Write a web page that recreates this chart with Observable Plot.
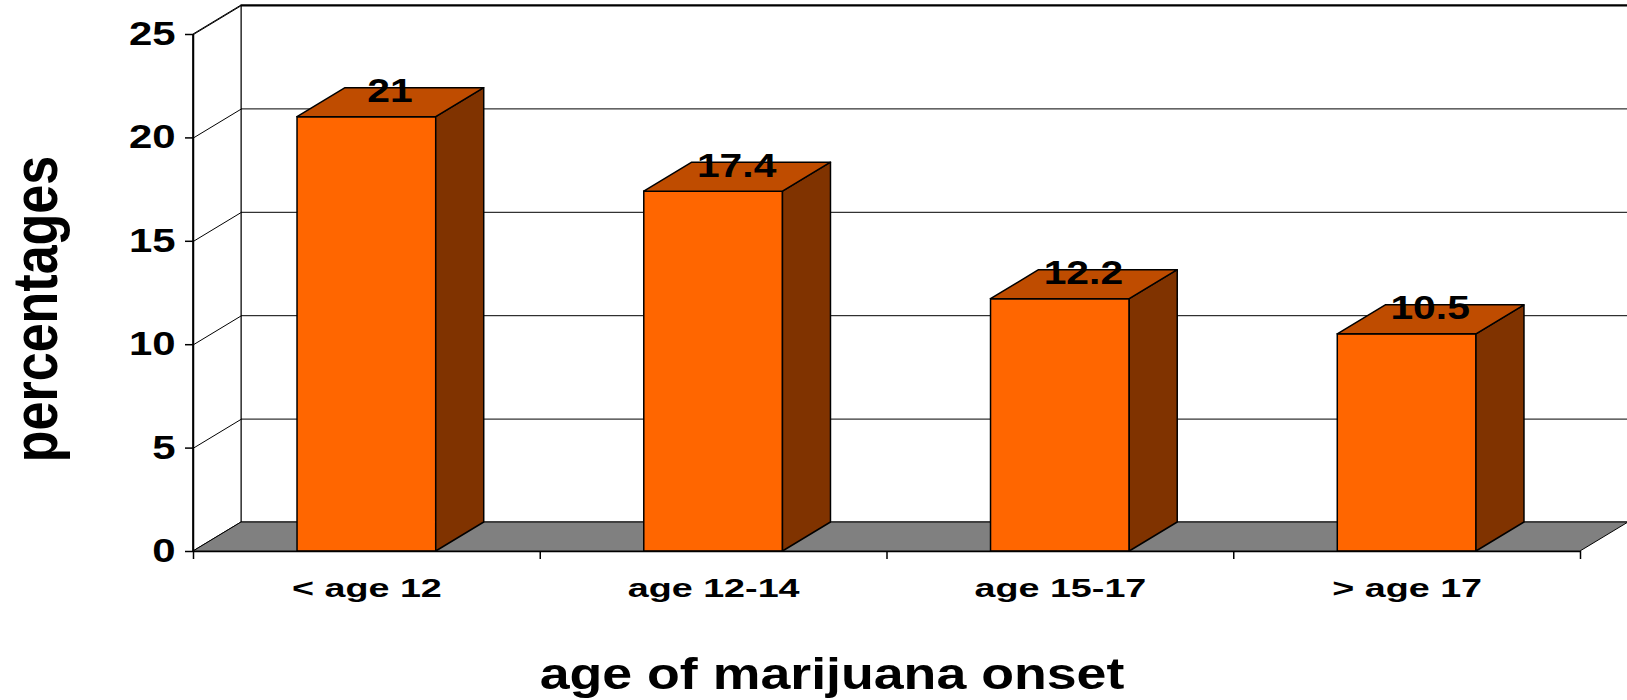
<!DOCTYPE html>
<html>
<head>
<meta charset="utf-8">
<script src="https://cdn.jsdelivr.net/npm/d3@7"></script>
<script src="https://cdn.jsdelivr.net/npm/@observablehq/plot@0.6"></script>
<style>
  html, body { margin: 0; padding: 0; background: #ffffff; }
</style>
</head>
<body>
<div id="chart"></div>
<script>
// Age at first marijuana use and the share (%) in each group
const categories = ["< age 12", "age 12-14", "age 15-17", "> age 17"];
const percentages = [21, 17.4, 12.2, 10.5];
const yTicks = [0, 5, 10, 15, 20, 25];
const xTitle = "age of marijuana onset";
const yTitle = "percentages";

// Chart frame
const W = 1627, H = 700;
const margin = {top: 34, right: 47, bottom: 149, left: 193};
const yMax = 25;
const nCat = categories.length;

// Depth of the pseudo-3D box, in pixels, converted to data units
const depthPx = {x: 48, y: 29};
const pxPerCat = (W - margin.left - margin.right) / nCat;
const pxPerUnit = (H - margin.top - margin.bottom) / yMax;
const DX = depthPx.x / pxPerCat;
const DY = depthPx.y / pxPerUnit;

// Bar footprint within each category band
const barLo = 0.3, barHi = 0.7;

const colors = {
  front: "#ff6600",
  top: "#bf4c00",
  side: "#803300",
  floor: "#808080",
  line: "#000000"
};

const gridVals = yTicks.filter(v => v > 0 && v < yMax);

const leftWall = [
  {x: 0, y1: 0, y2: yMax},
  {x: DX, y1: DY, y2: yMax + DY}
];
const floor = [
  {y: 0, x1: 0, x2: nCat},
  {y: DY, x1: DX, x2: nCat + DX}
];
const sideFaces = percentages.flatMap((v, i) => [
  {i, x: i + barHi, y1: 0, y2: v},
  {i, x: i + barHi + DX, y1: DY, y2: v + DY}
]);
const topFaces = percentages.flatMap((v, i) => [
  {i, y: v, x1: i + barLo, x2: i + barHi},
  {i, y: v + DY, x1: i + barLo + DX, x2: i + barHi + DX}
]);

const font = "'Liberation Sans', Arial, Helvetica, sans-serif";

const chart = Plot.plot({
  width: W,
  height: H,
  marginTop: margin.top,
  marginRight: margin.right,
  marginBottom: margin.bottom,
  marginLeft: margin.left,
  style: {fontFamily: font, background: "#ffffff", color: "#000000", overflow: "visible"},
  x: {type: "linear", domain: [0, nCat]},
  y: {type: "linear", domain: [0, yMax]},
  marks: [
    // back wall
    Plot.rect([0], {x1: DX, x2: nCat + DX, y1: DY, y2: yMax + DY, fill: "#ffffff", stroke: colors.line, strokeWidth: 1}),
    Plot.ruleY(gridVals, {x1: DX, x2: nCat + DX, y: d => d + DY, stroke: colors.line, strokeWidth: 1}),
    Plot.ruleY([yMax], {x1: DX, x2: nCat + DX, y: d => d + DY, stroke: colors.line, strokeWidth: 2}),
    // left wall with its slanted grid lines
    Plot.areaY(leftWall, {x: "x", y1: "y1", y2: "y2", fill: "#ffffff", stroke: colors.line, strokeWidth: 1}),
    Plot.link(yTicks, {x1: 0, y1: d => d, x2: DX, y2: d => d + DY, stroke: colors.line, strokeWidth: 1}),
    // floor
    Plot.areaX(floor, {y: "y", x1: "x1", x2: "x2", fill: colors.floor, stroke: colors.line, strokeWidth: 1}),
    // bars: front, side and top faces
    Plot.rectY(percentages, {x1: (d, i) => i + barLo, x2: (d, i) => i + barHi, y1: 0, y2: d => d, fill: colors.front, stroke: colors.line, strokeWidth: 1.5}),
    Plot.areaY(sideFaces, {x: "x", y1: "y1", y2: "y2", z: "i", fill: colors.side, stroke: colors.line, strokeWidth: 1.5}),
    Plot.areaX(topFaces, {y: "y", x1: "x1", x2: "x2", z: "i", fill: colors.top, stroke: colors.line, strokeWidth: 1.5}),
    // axes
    Plot.ruleX([0], {y1: 0, y2: yMax, stroke: colors.line, strokeWidth: 1.5}),
    Plot.ruleY([0], {x1: 0, x2: nCat, stroke: colors.line, strokeWidth: 1.5}),
    Plot.axisY(yTicks, {
      tickSize: 8, tickPadding: 10, fontSize: 33, fontWeight: "bold",
      stroke: colors.line, strokeWidth: 1.5, label: null, tickFormat: d => String(d)
    }),
    Plot.axisX(d3.range(nCat + 1), {
      tickSize: 8, tickFormat: () => "", stroke: colors.line, strokeWidth: 1.5, label: null
    }),
    // category labels
    Plot.text(categories, {
      x: (d, i) => i + 0.5, y: 0, text: d => d, dy: 37,
      fontSize: 26, fontWeight: "bold", lineAnchor: "middle", fill: "#000000"
    }),
    // value labels on top of each bar
    Plot.text(percentages, {
      x: (d, i) => i + 0.5, y: d => d, text: d => String(d), dx: 23, dy: -26,
      fontSize: 34, fontWeight: "bold", lineAnchor: "middle", fill: "#000000"
    }),
    // axis titles
    Plot.text([xTitle], {
      frameAnchor: "bottom", text: d => d, dx: -55, dy: 123,
      fontSize: 44, fontWeight: "bold", textAnchor: "middle", lineAnchor: "middle", fill: "#000000"
    }),
    Plot.text([yTitle], {
      frameAnchor: "left", text: d => d, dx: -157, dy: 16, rotate: -90,
      fontSize: 52, fontWeight: "bold", textAnchor: "middle", lineAnchor: "middle", fill: "#000000"
    })
  ]
});

document.getElementById("chart").appendChild(chart);

// Widen the lettering horizontally, as in the wide-set chart typography
function widen(texts, factor) {
  texts.forEach(t => {
    const w = t.getComputedTextLength();
    if (w > 0) {
      t.setAttribute("textLength", (w * factor).toFixed(1));
      t.setAttribute("lengthAdjust", "spacingAndGlyphs");
    }
  });
}
const textGroups = chart.querySelectorAll('g[aria-label="text"]');
const [catGroup, valueGroup, xTitleGroup, yTitleGroup] = textGroups;
widen(chart.querySelectorAll('g[aria-label="y-axis tick label"] text'), 1.27);
if (catGroup) widen(catGroup.querySelectorAll("text"), 1.45);
if (valueGroup) widen(valueGroup.querySelectorAll("text"), 1.2);
if (xTitleGroup) widen(xTitleGroup.querySelectorAll("text"), 1.22);
if (yTitleGroup) yTitleGroup.querySelectorAll("text").forEach(t => {
  const tr = t.getAttribute("transform") || "";
  t.setAttribute("transform", tr + " scale(1,1.22)");
});
</script>
</body>
</html>
